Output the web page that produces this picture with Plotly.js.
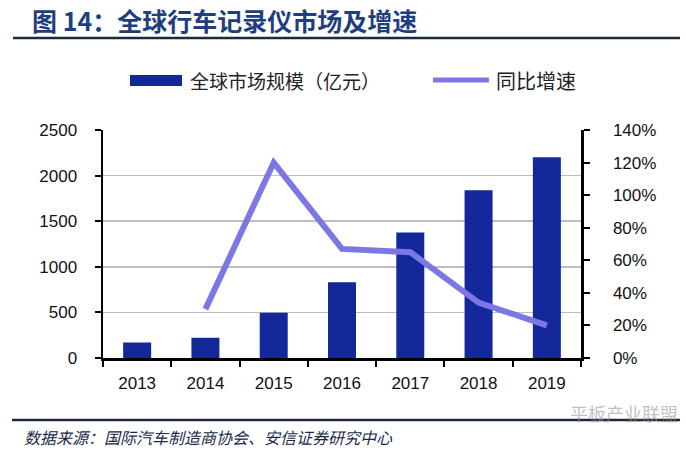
<!DOCTYPE html>
<html>
<head>
<meta charset="utf-8">
<script src="https://cdn.plot.ly/plotly-3.0.1.min.js"></script>
<style>
  html, body { margin: 0; padding: 0; background: #fff; }
  #chart { width: 686px; height: 452px; }
</style>
</head>
<body>
<div id="chart"></div>
<script>
  // data
  var years = ['2013', '2014', '2015', '2016', '2017', '2018', '2019'];
  var marketSize = [170, 222, 495, 830, 1375, 1840, 2200];   // 亿元
  var growthRate = [null, 30, 120, 67, 65, 34, 20];           // %

  var barName = '全球市场规模（亿元）';
  var lineName = '同比增速';

  var barColor = '#13289A';
  var lineColor = '#7B78E6';

  // plot area in pixels: left 103, right 581, top 130, bottom 358
  function px(x) { return (x - 103) / 478; }
  function py(y) { return (358 - y) / 228; }

  var bars = {
    type: 'bar',
    name: barName,
    x: years,
    y: marketSize,
    marker: {color: barColor},
    yaxis: 'y',
    hoverinfo: 'x+y'
  };

  var line = {
    type: 'scatter',
    mode: 'lines',
    name: lineName,
    x: years,
    y: growthRate,
    yaxis: 'y2',
    line: {color: lineColor, width: 6},
    connectgaps: false
  };

  var tickFont = {family: 'Liberation Sans, Arial, sans-serif', size: 17, color: '#111'};
  var cjk = 'Noto Sans CJK SC, sans-serif';

  var layout = {
    width: 686,
    height: 452,
    margin: {l: 103, r: 105, t: 130, b: 94},
    paper_bgcolor: '#fff',
    plot_bgcolor: '#fff',
    showlegend: false,
    bargap: 0.59,
    xaxis: {
      type: 'category',
      tickson: 'boundaries',
      ticks: 'outside',
      ticklen: 6,
      tickwidth: 2,
      tickcolor: '#000',
      showline: true,
      linecolor: '#000',
      linewidth: 2.5,
      showgrid: false,
      tickfont: tickFont,
      ticklabelstandoff: 8
    },
    yaxis: {
      range: [0, 2500],
      dtick: 500,
      ticks: 'outside',
      ticklen: 6,
      tickwidth: 2,
      tickcolor: '#000',
      showline: true,
      linecolor: '#000',
      linewidth: 2.5,
      showgrid: true,
      gridcolor: '#BDBDBD',
      gridwidth: 1.5,
      zeroline: false,
      tickfont: tickFont,
      ticklabelstandoff: 14
    },
    yaxis2: {
      overlaying: 'y',
      side: 'right',
      range: [0, 140],
      dtick: 20,
      ticksuffix: '%',
      ticks: 'outside',
      ticklen: 6,
      tickwidth: 2,
      tickcolor: '#000',
      showline: true,
      linecolor: '#000',
      linewidth: 2.5,
      showgrid: false,
      zeroline: false,
      tickfont: tickFont,
      ticklabelstandoff: 20
    },
    shapes: [
      // rule under the title
      {type: 'line', xref: 'paper', yref: 'paper', x0: px(13), x1: px(680), y0: py(38), y1: py(38),
       line: {color: '#1B2B3C', width: 2.5}},
      // rule above the source note
      {type: 'line', xref: 'paper', yref: 'paper', x0: px(12), x1: px(680), y0: py(420), y1: py(420),
       line: {color: '#1B2B3C', width: 2.5}},
      // legend swatches
      {type: 'rect', xref: 'paper', yref: 'paper', x0: px(130), x1: px(182), y0: py(86), y1: py(75),
       fillcolor: barColor, line: {width: 0}},
      {type: 'line', xref: 'paper', yref: 'paper', x0: px(433), x1: px(489), y0: py(80), y1: py(80),
       line: {color: lineColor, width: 5}}
    ],
    annotations: [
      // chart title
      {text: '<b>图 14：全球行车记录仪市场及增速</b>', xref: 'paper', yref: 'paper',
       x: px(30), y: py(20), xanchor: 'left', yanchor: 'middle', showarrow: false,
       font: {family: cjk, size: 25, color: '#1F3E80'}},
      {text: barName, xref: 'paper', yref: 'paper', x: px(188), y: py(80),
       xanchor: 'left', yanchor: 'middle', showarrow: false,
       font: {family: cjk, size: 19, color: '#222'}},
      {text: lineName, xref: 'paper', yref: 'paper', x: px(494), y: py(80),
       xanchor: 'left', yanchor: 'middle', showarrow: false,
       font: {family: cjk, size: 20, color: '#222'}},
      {text: '<i>数据来源：国际汽车制造商协会、安信证券研究中心</i>', xref: 'paper', yref: 'paper',
       x: px(22), y: py(437), xanchor: 'left', yanchor: 'middle', showarrow: false,
       font: {family: cjk, size: 16, color: '#1A2A4A'}},
      {text: '平板产业联盟', xref: 'paper', yref: 'paper',
       x: px(568), y: py(413), xanchor: 'left', yanchor: 'middle', showarrow: false,
       font: {family: cjk, size: 18, color: 'rgba(150,150,150,0.6)'}}
    ]
  };

  var config = {
    responsive: false,
    displaylogo: false,
    displayModeBar: false,
    staticPlot: true
  };

  Plotly.newPlot('chart', [bars, line], layout, config);
</script>
</body>
</html>
